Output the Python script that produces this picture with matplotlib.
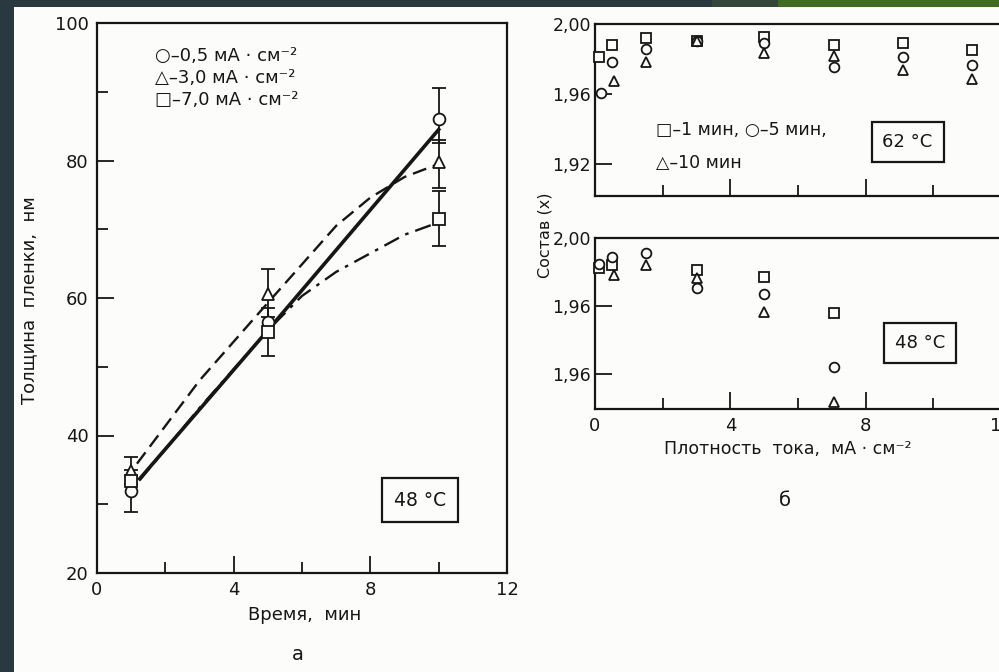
import matplotlib
matplotlib.use('Agg')
import matplotlib.pyplot as plt
from matplotlib.patches import Rectangle

plt.rcParams['font.family'] = ['DejaVu Sans']
plt.rcParams['font.size'] = 13

W, H = 999, 672
INK = '#161616'

# ---- panel a: film thickness vs anodising time
t_pts = [1, 5, 10]
thick_circle = [32.0, 56.5, 86.0]      # 0.5 mA/cm2
thick_triangle = [34.9, 60.6, 79.8]    # 3.0 mA/cm2
thick_square = [33.4, 55.0, 71.5]      # 7.0 mA/cm2

# error bars: time, low end, high end
err_circle_t, err_circle_lo, err_circle_hi = [1, 10], [28.9, 82.5], [35.0, 90.5]
err_tri_t, err_tri_lo, err_tri_hi = [1, 5, 10], [33.0, 57.2, 76.0], [36.9, 64.2, 83.0]
err_sq_t, err_sq_lo, err_sq_hi = [5, 10], [51.6, 67.5], [58.5, 75.5]

# fitted curves as drawn in the figure
fit_solid_t = [1.25, 5, 10]
fit_solid_y = [33.7, 55.3, 84.5]
fit_dash_t = [1.17, 3, 5, 7, 8, 9, 10]
fit_dash_y = [35.9, 48.0, 59.3, 70.5, 74.6, 77.6, 79.5]
fit_dashdot_t = [1.25, 3, 5, 6, 7, 8, 9, 10]
fit_dashdot_y = [33.5, 44.0, 55.3, 60.3, 63.8, 66.5, 69.2, 71.0]

# ---- panel b: composition vs current density
# 62 C
j62_sq = [0.12, 0.5, 1.5, 3, 5, 7.05, 9.1, 11.15]
x62_sq = [1.981, 1.988, 1.992, 1.990, 1.9926, 1.988, 1.989, 1.985]
j62_ci = [0.17, 0.5, 1.5, 3, 5, 7.05, 9.1, 11.15]
x62_ci = [1.9606, 1.978, 1.9857, 1.990, 1.989, 1.9754, 1.981, 1.9766]
j62_tr = [0.55, 1.5, 3, 5, 7.05, 9.1, 11.15]
x62_tr = [1.9674, 1.978, 1.990, 1.9834, 1.9817, 1.9737, 1.9686]
# 48 C
j48_sq = [0.12, 0.5, 3, 5, 7.05]
x48_sq = [1.9824, 1.984, 1.981, 1.977, 1.956]
j48_ci = [0.12, 0.5, 1.5, 3, 5, 7.05]
x48_ci = [1.9847, 1.9888, 1.991, 1.9706, 1.967, 1.924]
j48_tr = [0.55, 1.5, 3, 5, 7.05]
x48_tr = [1.978, 1.984, 1.9765, 1.9565, 1.9035]


def fx(px):
    return px / W


def fy(py):
    return 1 - py / H


fig = plt.figure(figsize=(9.99, 6.72), dpi=100)
fig.patch.set_facecolor('#2a3840')
# scanned page
fig.patches.append(Rectangle((fx(14), 0), 1, fy(7), transform=fig.transFigure,
                             facecolor='#fcfcfa', edgecolor='none', zorder=-10))
# green bar top right of the slide
fig.patches.append(Rectangle((fx(712), fy(7)), fx(66), 1, transform=fig.transFigure,
                             facecolor='#34463a', edgecolor='none', zorder=-10))
fig.patches.append(Rectangle((fx(778), fy(7)), 1, 1, transform=fig.transFigure,
                             facecolor='#3f6b22', edgecolor='none', zorder=-10))


def style_axes(ax):
    for s in ax.spines.values():
        s.set_linewidth(1.6)
        s.set_color(INK)
    ax.set_facecolor('none')
    ax.tick_params(which='both', direction='in', colors=INK, width=1.3,
                   top=False, right=False)
    ax.tick_params(which='major', length=12)
    ax.tick_params(which='minor', length=8)


mk = dict(mfc='#fcfcfa', mec=INK, mew=1.3, ls='none', zorder=4, clip_on=False)

# ---------------- panel a
ax = fig.add_axes([fx(97), fy(573), fx(410), 550 / H])
style_axes(ax)
ax.set_xlim(0, 12)
ax.set_ylim(20, 100)
ax.set_xticks([0, 4, 8, 12])
ax.set_xticks([2, 6, 10], minor=True)
ax.set_yticks([20, 40, 60, 80, 100])
ax.set_yticks([30, 50, 70, 90], minor=True)
ax.tick_params(axis='both', which='major', pad=6, labelsize=13)

ax.plot(fit_solid_t, fit_solid_y, color=INK, lw=2.6, zorder=2)
ax.plot(fit_dash_t, fit_dash_y, color=INK, lw=1.7, dashes=(6, 3), zorder=2)
ax.plot(fit_dashdot_t, fit_dashdot_y, color=INK, lw=1.7, dashes=(7, 3, 1.5, 3), zorder=2)

for et, lo, hi in [(err_circle_t, err_circle_lo, err_circle_hi),
                   (err_tri_t, err_tri_lo, err_tri_hi),
                   (err_sq_t, err_sq_lo, err_sq_hi)]:
    mid = [(a + b) / 2 for a, b in zip(lo, hi)]
    half = [(b - a) / 2 for a, b in zip(lo, hi)]
    ax.errorbar(et, mid, yerr=half, fmt='none', ecolor=INK, elinewidth=1.3,
                capsize=5, capthick=1.3, zorder=3)

ax.plot(t_pts, thick_circle, marker='o', ms=8.5, **mk)
ax.plot(t_pts, thick_triangle, marker='^', ms=8.5, **mk)
ax.plot(t_pts, thick_square, marker='s', ms=8, **mk)

legend_a = ['○–0,5 мА · см⁻²', '△–3,0 мА · см⁻²', '□–7,0 мА · см⁻²']
for i, s in enumerate(legend_a):
    ax.text(1.7, 95.2 - 3.2 * i, s, fontsize=13, color=INK, va='center', ha='left')

ax.text(9.46, 30.6, '48 °C', fontsize=13.5, color=INK, ha='center', va='center',
        bbox=dict(boxstyle='square,pad=0.65', fc='none', ec=INK, lw=1.6))

fig.text(fx(305), fy(615), 'Время,  мин', fontsize=13, color=INK, ha='center', va='center')
fig.text(fx(29), fy(300), 'Толщина  пленки,  нм', fontsize=13, color=INK,
         ha='center', va='center', rotation=90)
fig.text(fx(298), fy(654), 'а', fontsize=14, color=INK, ha='center', va='center')

# ---------------- panel b, top (62 C)
axt = fig.add_axes([fx(595), fy(196), (1001 - 595) / W, 172 / H])
style_axes(axt)
axt.set_xlim(0, 12)
axt.set_ylim(1.9017, 2.0)
axt.set_xticks([4, 8])
axt.set_xticks([2, 6, 10], minor=True)
axt.set_xticklabels([])
axt.set_yticks([1.92, 1.96, 2.0])
axt.set_yticklabels(['1,92', '1,96', '2,00'])
axt.tick_params(axis='y', which='major', pad=3, labelsize=12.5)
axt.plot(j62_sq, x62_sq, marker='s', ms=7, **mk)
axt.plot(j62_ci, x62_ci, marker='o', ms=7, **mk)
axt.plot(j62_tr, x62_tr, marker='^', ms=7, **mk)
axt.text(1.8, 1.9394, '□–1 мин, ○–5 мин,', fontsize=12.5, color=INK, va='center')
axt.text(1.8, 1.9206, '△–10 мин', fontsize=12.5, color=INK, va='center')
axt.text(9.24, 1.9326, '62 °C', fontsize=13, color=INK, ha='center', va='center',
         bbox=dict(boxstyle='square,pad=0.6', fc='none', ec=INK, lw=1.6))

# ---------------- panel b, bottom (48 C)
axb = fig.add_axes([fx(595), fy(409), (1001 - 595) / W, 171 / H])
style_axes(axb)
axb.set_xlim(0, 12)
axb.set_ylim(1.8994, 2.0)
axb.set_xticks([0, 4, 8, 12])
axb.set_xticks([2, 6, 10], minor=True)
axb.set_yticks([1.92, 1.96, 2.0])
axb.set_yticklabels(['1,96', '1,96', '2,00'])
axb.tick_params(axis='y', which='major', pad=3, labelsize=12.5)
axb.tick_params(axis='x', which='major', pad=6, labelsize=13)
axb.plot(j48_sq, x48_sq, marker='s', ms=7, **mk)
axb.plot(j48_ci, x48_ci, marker='o', ms=7, **mk)
axb.plot(j48_tr, x48_tr, marker='^', ms=7, **mk)
axb.text(9.6, 1.9382, '48 °C', fontsize=13, color=INK, ha='center', va='center',
         bbox=dict(boxstyle='square,pad=0.6', fc='none', ec=INK, lw=1.6))

fig.text(fx(788), fy(449), 'Плотность  тока,  мА · см⁻²', fontsize=12.5, color=INK,
         ha='center', va='center')
fig.text(fx(545), fy(235), 'Состав (x)', fontsize=11.5, color=INK,
         ha='center', va='center', rotation=90)
fig.text(fx(785), fy(500), 'б', fontsize=14, color=INK, ha='center', va='center')

fig.savefig('out.png', dpi=100, facecolor=fig.get_facecolor())
